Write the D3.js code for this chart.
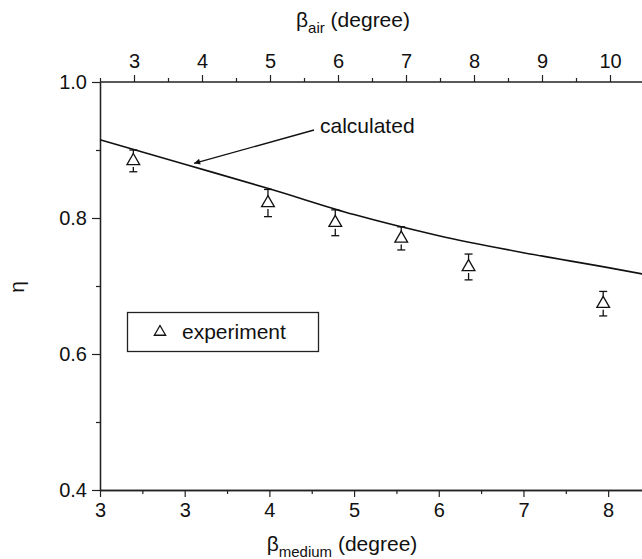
<!DOCTYPE html>
<html>
<head>
<meta charset="utf-8">
<script src="https://cdn.jsdelivr.net/npm/d3@7"></script>
<style>
  body { margin: 0; background: #fff; }
  svg { font-family: "Liberation Sans", Arial, sans-serif; }
</style>
</head>
<body>
<div id="chart"></div>
<script>
// bottom axis (beta medium) ticks and their printed labels
const mediumTicks = [2.5, 3.4, 4.3, 5.2, 6.1, 7.0, 7.9];
const mediumLabels = ["3", "3", "4", "5", "6", "7", "8"];
// top axis (beta air)
const airTicks = [3, 4, 5, 6, 7, 8, 9, 10];
const etaTicks = [0.4, 0.6, 0.8, 1.0];

// calculated curve (beta medium, eta)
const calcBeta = [2.5, 3.4, 4.3, 5.2, 6.1, 7.0, 7.9, 8.33];
const calcEta = [0.915, 0.879, 0.843, 0.805, 0.774, 0.749, 0.727, 0.716];

// experiment points (beta air, eta) with error bars
const expBeta = [2.99, 4.97, 5.96, 6.93, 7.92, 9.9];
const expEta = [0.884, 0.822, 0.793, 0.770, 0.728, 0.674];
const expErr = [0.016, 0.020, 0.019, 0.017, 0.019, 0.018];

const width = 642, height = 559;
const mLeft = 100, mTop = 82, mRight = 650.5, mBottom = 490;

const svg = d3.select("#chart").append("svg")
    .attr("width", width)
    .attr("height", height);

const x = d3.scaleLinear().domain([2.5, 8.35]).range([mLeft, mRight]);
const xAir = d3.scaleLinear().domain([3, 10]).range([134, 610]);
const y = d3.scaleLinear().domain([0.4, 1.0]).range([mBottom, mTop]);

// minor ticks halfway between majors
const mediumMinor = mediumTicks.map(d => d + 0.45);
const airMinor = airTicks.map(d => d - 0.5).concat([10.5]);
const etaMinor = [0.5, 0.7, 0.9];

function styleAxis(g) {
  g.select(".domain").attr("stroke", "#222").attr("stroke-width", 1.3);
  g.selectAll(".tick line").attr("stroke", "#222").attr("stroke-width", 1.2);
  g.selectAll(".tick text").attr("fill", "#111").style("font-size", "20px");
}

// bottom axis
svg.append("g")
    .attr("transform", `translate(0,${mBottom})`)
    .call(d3.axisBottom(x).tickValues(mediumTicks)
      .tickFormat((d, i) => mediumLabels[i]).tickSize(7).tickPadding(6).tickSizeOuter(0))
    .call(styleAxis);
svg.append("g")
    .attr("transform", `translate(0,${mBottom})`)
    .call(d3.axisBottom(x).tickValues(mediumMinor).tickFormat("").tickSize(4).tickSizeOuter(0))
    .call(styleAxis);

// top axis
svg.append("g")
    .attr("transform", `translate(0,${mTop})`)
    .call(d3.axisTop(xAir).tickValues(airTicks).tickFormat(d3.format("d"))
      .tickSize(7).tickPadding(7).tickSizeOuter(0))
    .call(styleAxis)
    .call(g => g.select(".domain").attr("d", `M${mLeft},0H${mRight}`));
svg.append("g")
    .attr("transform", `translate(0,${mTop})`)
    .call(d3.axisTop(xAir).tickValues(airMinor).tickFormat("").tickSize(4).tickSizeOuter(0))
    .call(g => g.select(".domain").remove())
    .call(styleAxis);

// left axis
svg.append("g")
    .attr("transform", `translate(${mLeft},0)`)
    .call(d3.axisLeft(y).tickValues(etaTicks).tickFormat(d3.format(".1f"))
      .tickSize(8).tickPadding(5).tickSizeOuter(0))
    .call(styleAxis);
svg.append("g")
    .attr("transform", `translate(${mLeft},0)`)
    .call(d3.axisLeft(y).tickValues(etaMinor).tickFormat("").tickSize(4).tickSizeOuter(0))
    .call(styleAxis);

// axis titles
const topTitle = svg.append("text")
    .attr("x", 353).attr("y", 27)
    .attr("text-anchor", "middle")
    .style("font-size", "21px").attr("fill", "#111");
topTitle.append("tspan").text("β");
topTitle.append("tspan").attr("dy", 6).style("font-size", "15px").text("air");
topTitle.append("tspan").attr("dy", -6).text(" (degree)");

const botTitle = svg.append("text")
    .attr("x", 342).attr("y", 551)
    .attr("text-anchor", "middle")
    .style("font-size", "21px").attr("fill", "#111");
botTitle.append("tspan").text("β");
botTitle.append("tspan").attr("dy", 6).style("font-size", "15px").text("medium");
botTitle.append("tspan").attr("dy", -6).text(" (degree)");

svg.append("text")
    .attr("transform", "translate(24,287) rotate(-90)")
    .attr("text-anchor", "middle")
    .style("font-size", "21px").attr("fill", "#111")
    .text("η");

// calculated curve
const calc = calcBeta.map((b, i) => ({ b, e: calcEta[i] }));
svg.append("path")
    .datum(calc)
    .attr("fill", "none")
    .attr("stroke", "#111")
    .attr("stroke-width", 1.6)
    .attr("d", d3.line().x(d => x(d.b)).y(d => y(d.e)).curve(d3.curveMonotoneX));

// error bars
const exp = expBeta.map((b, i) => ({ b, e: expEta[i], err: expErr[i] }));
const eb = svg.append("g").attr("stroke", "#111").attr("stroke-width", 1.3);
exp.forEach(d => {
  const cx = xAir(d.b);
  eb.append("line").attr("x1", cx).attr("x2", cx).attr("y1", y(d.e + d.err)).attr("y2", y(d.e) - 6);
  eb.append("line").attr("x1", cx).attr("x2", cx).attr("y1", y(d.e) + 6).attr("y2", y(d.e - d.err));
  eb.append("line").attr("x1", cx - 4).attr("x2", cx + 4).attr("y1", y(d.e + d.err)).attr("y2", y(d.e + d.err));
  eb.append("line").attr("x1", cx - 4).attr("x2", cx + 4).attr("y1", y(d.e - d.err)).attr("y2", y(d.e - d.err));
});

// triangles
const tri = d3.symbol().type(d3.symbolTriangle).size(70);
svg.append("g").selectAll("path")
    .data(exp)
    .enter()
    .append("path")
    .attr("d", tri)
    .attr("transform", d => `translate(${xAir(d.b)},${y(d.e)})`)
    .attr("fill", "#fff")
    .attr("stroke", "#111")
    .attr("stroke-width", 1.3);

// annotation
svg.append("defs").append("marker")
    .attr("id", "arrow")
    .attr("viewBox", "0 0 10 10")
    .attr("refX", 10).attr("refY", 5)
    .attr("markerWidth", 10).attr("markerHeight", 6)
    .attr("markerUnits", "userSpaceOnUse")
    .attr("orient", "auto")
    .append("path").attr("d", "M0,0L10,5L0,10z").attr("fill", "#111");

svg.append("line")
    .attr("x1", 314).attr("y1", 130)
    .attr("x2", x(3.5)).attr("y2", y(0.876) - 3)
    .attr("stroke", "#111").attr("stroke-width", 1.4)
    .attr("marker-end", "url(#arrow)");
svg.append("text")
    .attr("x", 320).attr("y", 133)
    .style("font-size", "21px").attr("fill", "#111")
    .text("calculated");

// legend
svg.append("rect")
    .attr("x", 127.5).attr("y", 312.5)
    .attr("width", 191).attr("height", 39)
    .attr("fill", "#fff").attr("stroke", "#222").attr("stroke-width", 1.3);
svg.append("path")
    .attr("d", d3.symbol().type(d3.symbolTriangle).size(55))
    .attr("transform", "translate(160,332)")
    .attr("fill", "#fff").attr("stroke", "#111").attr("stroke-width", 1.3);
svg.append("text")
    .attr("x", 182).attr("y", 339)
    .style("font-size", "21px").attr("fill", "#111")
    .text("experiment");
</script>
</body>
</html>
